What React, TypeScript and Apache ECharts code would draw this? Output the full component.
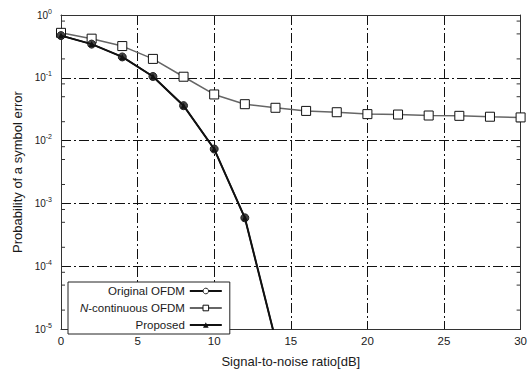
import React, { useEffect, useRef } from "react";
import * as echarts from "echarts";

const snrNC = [0, 2, 4, 6, 8, 10, 12, 14, 16, 18, 20, 22, 24, 26, 28, 30];
const nContinuous = [0.52, 0.42, 0.32, 0.2, 0.104, 0.0543, 0.038, 0.0333, 0.0297, 0.0283, 0.0264, 0.026, 0.0251, 0.0248, 0.024, 0.0234];
const snrOrig = [0, 2, 4, 6, 8, 10, 12, 14];
const original = [0.47, 0.344, 0.215, 0.105, 0.036, 0.00734, 0.000589, 0.0000068];
const proposed = [0.47, 0.344, 0.215, 0.105, 0.036, 0.00734, 0.000589, 0.0000068];
const minorTicks = [0.8, 0.5, 0.2, 0.08, 0.05, 0.02, 0.008, 0.005, 0.002, 0.0008, 0.0005, 0.0002, 0.00008, 0.00005, 0.00002];
const xMin = 0;
const xMax = 30;
const yMin = 1e-5;
const yMax = 1;

const gridDash = [10, 3, 2, 3];
const textColor = "#1a1a1a";
const font = "Liberation Sans, Arial, sans-serif";

export default function App() {
  const ref = useRef<HTMLDivElement>(null);
  useEffect(() => {
    if (!ref.current) return;
    const chart = echarts.init(ref.current, undefined, { renderer: "svg" });
    const pairs = (xs: number[], ys: number[]) => xs.map((x, i) => [x, ys[i]]);
    chart.setOption({
      animation: false,
      backgroundColor: "#fff",
      grid: { left: 61, right: 9, top: 15, bottom: 34 },
      xAxis: [
        {
          type: "value",
          min: xMin,
          max: xMax,
          interval: 5,
          axisLine: { show: true, onZero: false, lineStyle: { color: "#333", width: 1 } },
          axisTick: { show: false },
          axisLabel: { fontSize: 11.5, color: textColor, margin: 6, fontFamily: font },
          splitLine: { show: true, lineStyle: { color: "#111", width: 1, type: gridDash } },
          name: "Signal-to-noise ratio[dB]",
          nameLocation: "middle",
          nameGap: 26,
          nameTextStyle: { fontSize: 13, color: textColor, fontFamily: font },
        },
        {
          type: "value",
          position: "top",
          min: xMin,
          max: xMax,
          interval: 5,
          axisLine: { show: true, onZero: false, lineStyle: { color: "#333", width: 1 } },
          axisTick: { show: false },
          axisLabel: { show: false },
          splitLine: { show: false },
        },
      ],
      yAxis: [
        {
          type: "log",
          logBase: 10,
          min: yMin,
          max: yMax,
          interval: 1,
          axisLine: { show: true, onZero: false, lineStyle: { color: "#333", width: 1 } },
          axisTick: { show: false },
          splitLine: { show: true, lineStyle: { color: "#111", width: 1, type: gridDash } },
          axisLabel: {
            margin: 9,
            color: textColor,
            fontFamily: font,
            formatter: (v: number) => `{b|10}{s|${Math.round(Math.log10(v))}}`,
            rich: {
              b: { fontSize: 10, color: textColor, fontFamily: font },
              s: { fontSize: 7, color: textColor, padding: [0, 0, 8, 0], fontFamily: font },
            },
          },
          name: "Probability of a symbol error",
          nameLocation: "middle",
          nameGap: 33,
          nameTextStyle: { fontSize: 13, color: textColor, fontFamily: font },
        },
        {
          type: "log",
          logBase: 10,
          position: "right",
          min: yMin,
          max: yMax,
          interval: 1,
          axisLine: { show: true, onZero: false, lineStyle: { color: "#333", width: 1 } },
          axisTick: { show: false },
          axisLabel: { show: false },
          splitLine: { show: false },
        },
      ],
      legend: {
        left: 68,
        top: 282,
        orient: "vertical",
        align: "right",
        backgroundColor: "#fff",
        borderColor: "#222",
        borderWidth: 1,
        borderRadius: 0,
        padding: [3, 7, 3, 12],
        itemWidth: 32,
        itemHeight: 7,
        itemGap: 5,
        itemStyle: { borderWidth: 1 },
        textStyle: {
          fontSize: 11.5,
          color: textColor,
          lineHeight: 12,
          fontFamily: font,
          rich: {
            i: { fontSize: 11.5, fontStyle: "italic", color: textColor, fontFamily: font },
          },
        },
        formatter: (name: string) => (name === "N-continuous OFDM" ? "{i|N}-continuous OFDM" : name),
        data: [
          { name: "Original OFDM", itemStyle: { color: "#fff", borderColor: "#222", borderWidth: 1 } },
          { name: "N-continuous OFDM" },
          { name: "Proposed" },
        ],
      },
      series: [
        {
          type: "custom",
          name: "ticks",
          silent: true,
          xAxisIndex: 0,
          yAxisIndex: 0,
          data: minorTicks.map((v) => [xMin, v]),
          renderItem: (params: any, api: any) => {
            const v = api.value(1);
            const l = api.coord([xMin, v]);
            const r = api.coord([xMax, v]);
            return {
              type: "group",
              children: [
                { type: "line", shape: { x1: l[0], y1: l[1], x2: l[0] + 4, y2: l[1] }, style: { stroke: "#333", lineWidth: 1 } },
                { type: "line", shape: { x1: r[0] - 4, y1: r[1], x2: r[0], y2: r[1] }, style: { stroke: "#333", lineWidth: 1 } },
              ],
            };
          },
        },
        {
          type: "line",
          name: "N-continuous OFDM",
          data: pairs(snrNC, nContinuous),
          symbol: "rect",
          symbolSize: 9,
          showAllSymbol: true,
          lineStyle: { color: "#666", width: 1.5 },
          itemStyle: { color: "#fff", borderColor: "#111", borderWidth: 1 },
          z: 3,
        },
        {
          type: "line",
          name: "Original OFDM",
          data: pairs(snrOrig, original),
          symbol: "circle",
          symbolSize: 8,
          showAllSymbol: true,
          clip: true,
          lineStyle: { color: "#111", width: 2 },
          itemStyle: { color: "#444", borderColor: "#222", borderWidth: 1 },
          z: 4,
        },
        {
          type: "line",
          name: "Proposed",
          data: pairs(snrOrig, proposed),
          symbol: "triangle",
          symbolSize: 6,
          showAllSymbol: true,
          clip: true,
          lineStyle: { color: "#111", width: 1.5 },
          itemStyle: { color: "#111" },
          z: 5,
        },
      ],
    });
    return () => chart.dispose();
  }, []);
  return <div ref={ref} style={{ position: "absolute", left: 0, top: 0, width: 530, height: 373 }} />;
}
